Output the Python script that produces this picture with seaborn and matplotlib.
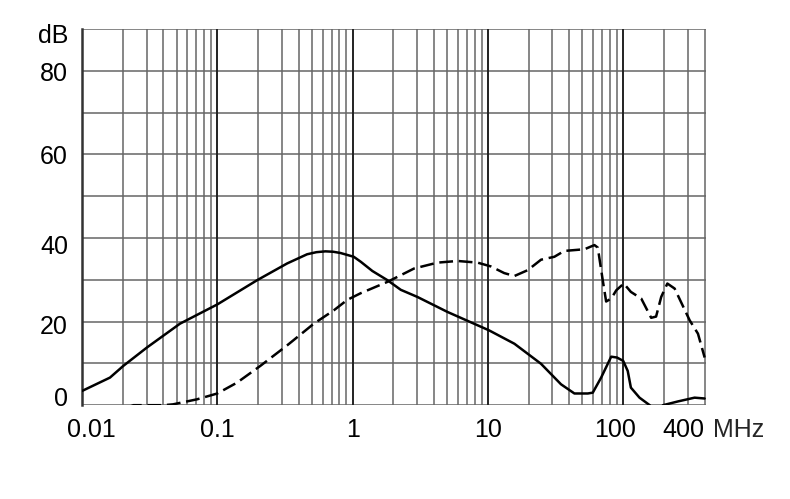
import matplotlib
matplotlib.use("Agg")
import matplotlib.pyplot as plt
import matplotlib.transforms as mtransforms
from matplotlib.ticker import LogLocator, NullFormatter
import pandas as pd
import seaborn as sns

# solid curve (MHz, dB)
solid_freq = [0.01, 0.0161, 0.0202, 0.0302, 0.053, 0.1, 0.197, 0.328, 0.461, 0.54,
              0.63, 0.72, 0.815, 1.02, 1.15, 1.4, 1.81, 2.27, 3.01, 5.03, 10.2,
              15.7, 24.7, 34.7, 43.6, 54.8, 59.6, 68.7, 81.5, 90, 100, 108, 114,
              132, 157, 175, 197, 254, 337, 400]
solid_db = [3.4, 6.6, 9.4, 13.8, 19.5, 24.1, 29.9, 33.9, 36.1, 36.6,
            36.8, 36.7, 36.4, 35.5, 34.3, 32.1, 29.9, 27.6, 25.9, 22.3, 17.9,
            14.7, 9.9, 5.0, 2.8, 2.8, 3.0, 6.6, 11.6, 11.4, 10.6, 8.2, 4.2,
            1.8, 0.0, -2.0, 0.0, 0.9, 1.8, 1.6]

# dashed curve (MHz, dB)
dashed_freq = [0.022, 0.024, 0.04, 0.047, 0.0707, 0.1, 0.14, 0.208, 0.328, 0.517,
               0.727, 0.914, 1.15, 1.81, 2.85, 4.24, 5.96, 8.39, 10.5, 13.2, 15.7,
               19.7, 24.7, 31, 36.7, 51.7, 61.3, 64.9, 70.6, 74.8, 81.5, 89, 101,
               114, 136, 161, 175, 191, 212, 240, 310, 357, 400]
dashed_db = [-0.5, 0.0, 0.0, 0.2, 1.4, 2.8, 5.4, 9.4, 14.3, 19.5,
             22.7, 25.2, 26.8, 29.5, 32.7, 34.1, 34.5, 34.1, 33.2, 31.6, 30.9,
             32.3, 34.8, 35.5, 36.9, 37.3, 38.3, 37.7, 29.9, 24.8, 25.5, 27.5, 29.1,
             27.1, 25.5, 20.9, 21.2, 25.9, 29.1, 27.9, 20.3, 17.1, 11.4]

x_ticks = [0.01, 0.1, 1, 10, 100, 400]
x_labels = ["0.01", "0.1", "1", "10", "100", "400"]
y_ticks = [0, 20, 40, 60, 80, 89]
y_labels = ["0", "20", "40", "60", "80", "dB"]

sns.set_style("white")
plt.rcParams["font.family"] = ["Liberation Sans", "DejaVu Sans"]

fig = plt.figure(figsize=(7.9, 4.99), dpi=100)
ax = fig.add_axes([0.1038, 0.188, 0.790, 0.754])

solid = pd.DataFrame({"f": solid_freq, "db": solid_db})
dashed = pd.DataFrame({"f": dashed_freq, "db": dashed_db})
sns.lineplot(data=solid, x="f", y="db", ax=ax, color="black", lw=1.8,
             estimator=None, sort=False, zorder=5)
sns.lineplot(data=dashed, x="f", y="db", ax=ax, color="black", lw=1.8,
             estimator=None, sort=False, dashes=False, zorder=5)
ax.lines[-1].set_dashes((5.5, 2.3))

ax.set_xscale("log")
ax.set_xlim(0.01, 410)
ax.set_ylim(0, 90)

# grid
for yv in range(0, 100, 10):
    ax.axhline(yv, color="#666666", lw=1.1, zorder=1)
for dec in [0.01, 0.1, 1, 10, 100]:
    for m in range(1, 10):
        xv = dec * m
        if xv > 410:
            break
        if m == 1:
            ax.axvline(xv, color="#222222", lw=1.4, zorder=2)
        else:
            ax.axvline(xv, color="#666666", lw=1.1, zorder=1)

for s in ["top", "right", "bottom"]:
    ax.spines[s].set_visible(False)
ax.spines["left"].set_color("#333333")
ax.spines["left"].set_linewidth(1.8)

ax.xaxis.set_minor_locator(LogLocator(subs=[]))
ax.xaxis.set_minor_formatter(NullFormatter())
ax.set_xticks(x_ticks)
ax.set_xticklabels(x_labels)
ax.set_yticks(y_ticks)
ax.set_yticklabels(y_labels)
ax.tick_params(axis="both", length=0, labelsize=18, colors="black")
ax.tick_params(axis="x", pad=9)
ax.tick_params(axis="y", pad=10)
ax.set_xlabel("")
ax.set_ylabel("")

# fine label offsets (points)
x_shift = {"0.01": 7, "100": -6}
for lab in ax.get_xticklabels():
    dx = x_shift.get(lab.get_text(), 0)
    if lab.get_text() == "400":
        lab.set_horizontalalignment("right")
        dx = 0
    lab.set_transform(lab.get_transform() +
                      mtransforms.ScaledTranslation(dx / 72, 0, fig.dpi_scale_trans))
y_shift = {"0": 6.5, "20": -2, "40": -4.5, "80": -0.5}
for lab in ax.get_yticklabels():
    dy = y_shift.get(lab.get_text(), 0)
    lab.set_transform(lab.get_transform() +
                      mtransforms.ScaledTranslation(0, dy / 72, fig.dpi_scale_trans))

ax.text(1.0, -0.033, " MHz", transform=ax.transAxes, fontsize=18,
        ha="left", va="top")

fig.savefig("out.png", dpi=100)
